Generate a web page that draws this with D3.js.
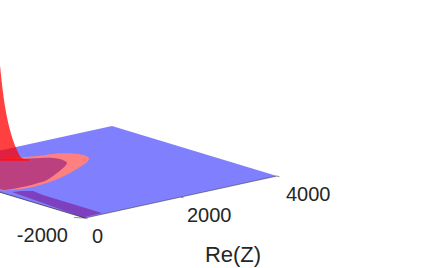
<!DOCTYPE html>
<html><head><meta charset="utf-8">
<script src="https://cdn.jsdelivr.net/npm/d3@7/dist/d3.min.js"></script>
<style>html,body{margin:0;padding:0;background:#fff;overflow:hidden}svg{display:block}text{font-family:"Liberation Sans",Arial,sans-serif;fill:#262626}</style>
</head><body><svg id="c" width="423" height="268"></svg>
<script>
const planeRe=[0,4000,4000,0];
const planeIm=[-2000,-2000,2000,2000];
const pinkRe=[543,1287,1629,1943,2236,2430,2492,2444,2260,1975,1615,1294,1013,773,452,210,109];
const pinkIm=[984,1559,1471,1351,1281,1119,947,747,582,420,243,112,29,-10,-19,63,188];
const plumRe=[543,1267,1569,1851,2009,2050,1978,1731,1458,1057,873,431,129];
const plumIm=[984,1535,1401,1245,1113,919,738,547,375,151,106,77,211];
const stripRe=[155,316,449,410,406,0];
const stripIm=[-50,-106,-218,-504,-1941,-1957];
const peakRe=[1287,1323,1372,1408,1444,1493,1529,1577,1638];
const peakIm=[1559,1529,1488,1457,1427,1386,1356,1315,1264];
const peakZ=[950,680,430,300,200,100,40,10,0];
const reTicks=[0,2000,4000];
const imTicks=[-2000];
const reLabels=["0","2000","4000"];
const imLabels=["-2000"];
const reTitle="Re(Z)";

const reX=d3.scaleLinear().domain([0,4000]).range([0,192]);
const reY=d3.scaleLinear().domain([0,4000]).range([0,-42]);
const imX=d3.scaleLinear().domain([-2000,2000]).range([85,-80]);
const imY=d3.scaleLinear().domain([-2000,2000]).range([218,168]);
const zY=d3.scaleLinear().domain([0,1000]).range([0,-100]);
const px=(re,im)=>reX(re)+imX(im);
const py=(re,im,z=0)=>reY(re)+imY(im)+zY(z);
const svg=d3.select("#c");
const line=d3.line().curve(d3.curveLinear);
const curve=d3.line().curve(d3.curveCatmullRomClosed.alpha(0.5));
const pts=(R,I,Z)=>R.map((r,i)=>[px(r,I[i]),py(r,I[i],Z?Z[i]:0)]);

svg.append("path").attr("d",line(pts(planeRe,planeIm))+"Z").attr("fill","#8080ff");
svg.append("path").attr("d",line(pts(stripRe,stripIm))+"Z").attr("fill","#7f40c0");
svg.append("path").attr("d",curve(pts(pinkRe,pinkIm))).attr("fill","#ff8080");
svg.append("path").attr("d",curve(pts(plumRe,plumIm))).attr("fill","#bb4080");

const crest=pts(peakRe,peakIm,peakZ);
const base=pts(peakRe,peakIm);
const smooth=d3.line().curve(d3.curveMonotoneX);
svg.append("path").attr("d",smooth(crest)+"L"+base[0].join(",")+"Z").attr("fill","#ff0000").attr("fill-opacity",0.75);
svg.append("path").attr("d",line([base[0],base[base.length-1]])).attr("stroke","#ff1020").attr("stroke-width",1.6).attr("fill","none");

const axisCol="#262626";
svg.append("path").attr("d",line([[px(0,-2000),py(0,-2000)],[px(4000,-2000),py(4000,-2000)]])).attr("stroke",axisCol).attr("stroke-width",0.5).attr("fill","none");
svg.append("path").attr("d",line([[px(0,2000),py(0,2000)],[px(0,-2000),py(0,-2000)]])).attr("stroke",axisCol).attr("stroke-width",0.7).attr("fill","none");

reTicks.forEach((t,i)=>{
  const x=px(t,-2000),y=py(t,-2000);
  svg.append("line").attr("x1",x).attr("y1",y).attr("x2",x+px(0,-2060)-px(0,-2000)).attr("y2",y+py(0,-2060)-py(0,-2000)).attr("stroke",axisCol).attr("stroke-width",0.5);
  svg.append("text").attr("x",x+[7,6,9][i]).attr("y",y+[24.5,24.5,25][i]).attr("font-size",20).text(reLabels[i]);
});
imTicks.forEach((t,i)=>{
  const x=px(0,t),y=py(0,t);
  svg.append("line").attr("x1",x).attr("y1",y).attr("x2",x-11).attr("y2",y-0.5).attr("stroke",axisCol).attr("stroke-width",0.5);
  svg.append("text").attr("x",x-17).attr("y",y+24).attr("text-anchor","end").attr("font-size",20).text(imLabels[i]);
});
svg.append("text").attr("x",233).attr("y",262).attr("text-anchor","middle").attr("font-size",22).text(reTitle);
</script></body></html>
